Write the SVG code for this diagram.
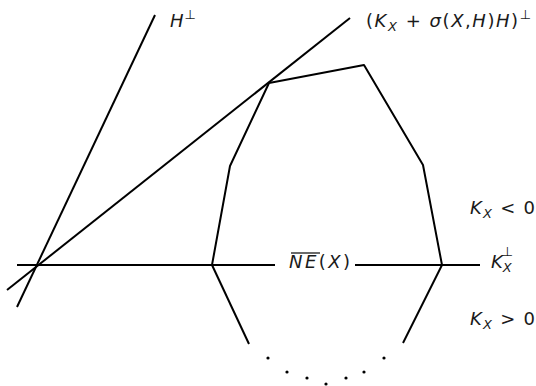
<svg xmlns="http://www.w3.org/2000/svg" width="536" height="386" viewBox="0 0 536 386">
<style>
.ln{stroke:#000;stroke-width:2;fill:none;stroke-linejoin:round}
.t{font-family:"DejaVu Sans","Liberation Sans",sans-serif;font-size:18px;fill:#1a1a1a}
.i{font-style:italic}
.s{font-size:13px}
</style>
<rect width="536" height="386" fill="#fff"/>
<g id="connectors">
<line class="ln" x1="17" y1="307" x2="155" y2="15"/>
<line class="ln" x1="7" y1="290" x2="350" y2="18"/>
<line class="ln" x1="17" y1="265" x2="275" y2="265"/>
<line class="ln" x1="355" y1="265" x2="480" y2="265"/>
</g>
<g id="polytope">
<polyline class="ln" points="212,265 230,166 269,83 364,65 423,165 442,265"/>
<line class="ln" x1="212" y1="265" x2="249" y2="344"/>
<line class="ln" x1="442" y1="265" x2="403" y2="343"/>
<g fill="#000">
<circle cx="268" cy="358" r="1.6"/>
<circle cx="287" cy="372" r="1.6"/>
<circle cx="307" cy="378" r="1.6"/>
<circle cx="326" cy="384" r="1.6"/>
<circle cx="346" cy="378" r="1.6"/>
<circle cx="364" cy="372" r="1.6"/>
<circle cx="384" cy="358" r="1.6"/>
</g>
</g>
<g id="label-H">
<text class="t" x="170" y="27"><tspan class="i">H</tspan><tspan class="s" dx="1" dy="-8">⊥</tspan></text>
</g>
<g id="label-KsH">
<text class="t" x="366" y="27" textLength="165" lengthAdjust="spacing">(<tspan class="i">K</tspan><tspan class="i s" dy="4">X</tspan><tspan dy="-4"> + </tspan><tspan class="i">σ</tspan>(<tspan class="i">X</tspan>,<tspan class="i">H</tspan>)<tspan class="i">H</tspan>)<tspan class="s" dy="-8">⊥</tspan></text>
</g>
<g id="label-NE">
<text class="t" x="289" y="268" textLength="61" lengthAdjust="spacing"><tspan class="i">NE</tspan>(<tspan class="i">X</tspan>)</text>
<line x1="291" y1="253" x2="320" y2="253" stroke="#1a1a1a" stroke-width="1.3"/>
</g>
<g id="label-Kperp">
<text class="t" x="491" y="268"><tspan class="i">K</tspan><tspan class="i s" dy="4">X</tspan><tspan class="s" dx="-10" dy="-16">⊥</tspan></text>
</g>
<g id="label-Kneg">
<text class="t" x="470" y="214" textLength="65" lengthAdjust="spacing"><tspan class="i">K</tspan><tspan class="i s" dy="4">X</tspan><tspan dy="-4"> &lt; 0</tspan></text>
</g>
<g id="label-Kpos">
<text class="t" x="470" y="325" textLength="65" lengthAdjust="spacing"><tspan class="i">K</tspan><tspan class="i s" dy="4">X</tspan><tspan dy="-4"> &gt; 0</tspan></text>
</g>
</svg>
